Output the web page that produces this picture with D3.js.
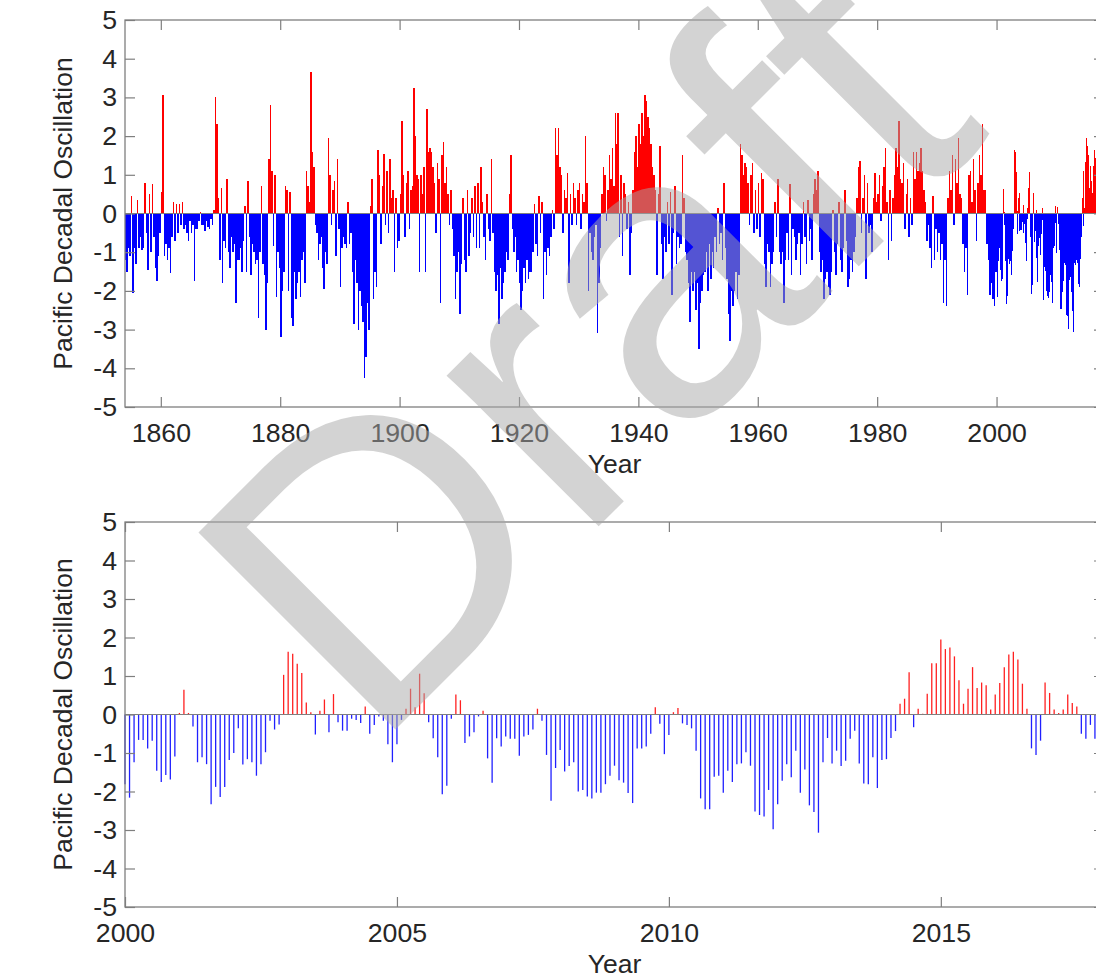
<!DOCTYPE html>
<html>
<head>
<meta charset="utf-8">
<script src="https://cdn.jsdelivr.net/npm/d3@7"></script>
<style>
  body { margin: 0; background: #fff; }
  svg { display: block; }
</style>
</head>
<body>
<div id="app"></div>
<script>
// PDO index
const longStart = 1854;
// seasonal values, 1854-1999, four per year
const pdoSeasonal = [
  -1.2, -1.5, -0.9, -1.1,   0.45, -2.05, -0.9, -1.3,   0.35, -0.9, -0.6, -0.95,   -0.9, 0.8, -0.5, -1.45,
  0.5, -1.0, 0.75, -0.6,   -1.4, -1.75, -1.1, -0.5,
  0.55, 3.05, -1.1, -0.8,   -1.2, -0.9, -1.55, -0.6,   0.3, -0.7, 0.25, -0.5,   0.25, -0.3, 0.3, -0.4,
  -0.3, -0.5, -0.7, -0.2,   -0.5, -0.3, -1.75, -0.4,   -0.4, -0.2, 0.05, -0.3,   -0.3, -0.45, -0.2, -0.35,
  -0.4, -0.15, -0.3, 0.1,   3.0, 2.3, 0.4, -1.2,
  0.65, -1.8, -0.7, -0.9,   0.9, -1.0, -1.4, -0.6,   -1.0, -0.8, -2.3, -1.2,   -1.2, -0.9, -1.5, -0.7,
  0.2, -1.5, 0.85, -0.6,   -1.6, -0.8, -1.0, -1.3,   -1.2, -2.7, -1.0, 0.7,   -1.3, -1.6, -3.0, -1.8,
  1.4, 2.8, 1.1, -0.85,   1.0, -2.15, -1.0, -1.4,
  -3.2, -2.0, -1.5, 0.7,   0.6, -2.0, 0.55, -2.7,   -2.9, -1.5, -2.2, -1.8,   -1.5, -2.15, -1.2, -1.0,
  -1.8, 1.1, 0.7, 0.3,   3.65, 1.6, 1.2, -0.3,   -0.5, -1.2, -0.8, -0.6,   -1.4, -1.95, -1.0, -1.3,
  1.95, 1.0, -0.3, 0.6,   0.85, -1.1, 1.4, -0.4,
  -1.9, -0.9, -0.6, -0.8,   -0.9, 0.3, -0.8, -0.5,   -1.5, -2.85, -1.2, -1.8,   -3.0, -2.0, -2.4, -2.8,
  -4.25, -3.7, -2.3, -3.0,   0.2, 0.9, -2.2, -1.5,   -1.9, 1.65, 1.0, -0.8,   0.7, 1.55, -0.3, 1.1,
  -0.5, 1.4, 0.4, 0.6,   -1.5, 0.4, -0.9, -0.7,
  0.5, 2.4, 1.0, -0.6,   0.8, 1.1, -0.4, 0.6,   0.7, 3.25, 2.0, 1.0,   0.9, -1.5, 1.0, 0.5,
  1.2, -1.5, 2.7, 1.6,   1.7, 1.6, 1.2, 0.8,   -0.5, 1.3, 0.9, -2.3,   1.5, 1.85, 0.8, 1.2,
  0.5, -0.3, 0.6, -0.4,   -1.1, -2.2, -1.5, -1.0,
  -2.6, -1.3, 0.4, -1.2,   -1.5, 0.6, -1.1, -0.5,   0.4, -0.6, 0.7, -0.9,   0.8, -0.9, 1.2, 0.3,
  -0.6, -1.2, 0.5, -0.4,   -0.7, 1.4, -0.5, -1.5,   -2.0, -1.6, -2.85, -1.4,   -2.2, -1.8, -1.5, -1.0,
  -1.2, 0.5, 1.5, -0.4,   -1.0, -0.6, -1.5, -1.2,
  -1.8, -2.5, -2.0, -1.4,   -1.8, -1.2, -1.7, -1.5,   -1.5, -1.0, 0.25, -0.8,   -1.1, 0.45, -0.5, 0.3,
  -2.2, -1.0, -1.6, -0.9,   -1.1, -0.6, 0.1, -0.4,   2.2, 1.5, 2.2, 1.2,   1.0, -0.5, 0.6, 0.4,
  1.05, -1.8, 0.5, -0.3,   0.8, 0.4, -0.3, 0.6,
  0.8, -0.4, 0.5, 0.3,   2.0, 0.8, -2.0, -0.5,   -1.0, -1.2, -0.6, -0.3,   -3.1, -1.8, -0.9, 0.5,
  1.2, 1.0, -0.2, 0.6,   1.5, 0.9, 1.7, 0.7,   2.6, 1.8, 2.6, -0.6,   1.0, -1.1, 0.8, 0.5,
  -0.4, 0.3, -1.6, -0.5,   0.6, 1.6, 2.0, 1.2,
  2.3, 1.8, 2.6, 2.0,   3.05, 2.9, 2.5, 2.2,   1.8, 1.2, 1.0, 0.6,   -1.6, 0.5, 1.75, -0.8,
  -1.7, -0.6, -1.0, 0.3,   -0.8, 0.55, -2.1, -0.5,   0.7, -1.3, -0.6, -0.9,   -0.8, 1.5, 0.4, -1.0,
  -1.2, -1.8, -2.8, -1.5,   -2.0, -1.5, -2.5, -1.8,
  -3.5, -2.3, -2.0, -1.6,   -1.5, -1.0, -2.0, -0.8,   -1.7, -1.0, -1.4, -0.6,   -1.0, 0.15, -0.8, -0.5,
  -1.2, 0.8, -0.9, -1.7,   -2.6, -3.3, -2.0, -2.4,   -2.0, -1.5, -2.2, -1.6,   1.8, 1.5, 1.0, 1.3,
  1.2, 0.8, -0.3, 1.0,   1.3, -0.5, 0.6, -0.4,
  0.8, -0.6, 1.05, 0.9,   -1.3, -1.9, -0.8, -1.0,   -1.9, -1.3, -1.0, 0.3,   -0.6, 0.9, -1.0, -1.3,
  -1.0, -2.3, -1.2, -0.5,   -1.2, 0.75, -1.6, -0.4,   -0.6, -1.2, -0.8, -0.5,   -1.6, -0.8, 0.3, -0.6,
  -1.3, 0.35, -0.7, -0.4,   -1.2, 0.5, 0.9, 0.6,
  1.1, -1.0, -1.5, -1.2,   -2.2, -1.7, -1.5, -1.9,   -2.1, -1.5, 0.1, -1.0,   -1.6, -0.8, 0.3, -1.2,
  -1.5, -0.9, 0.6, -0.7,   -1.9, -1.7, -1.2, -1.5,   -1.0, -0.6, 0.4, 1.2,   1.35, -0.5, 0.4, 1.0,
  -1.7, 0.8, -0.5, -0.3,   -1.0, 0.4, 1.05, 0.3,
  0.5, 1.0, -0.2, 0.7,   1.2, 1.7, 0.3, -1.2,   0.6, -0.7, 0.4, 1.0,   1.7, 1.2, 2.4, 0.9,
  0.8, 1.3, -0.4, 0.5,   0.9, -0.6, 0.4, -0.3,   1.6, 0.9, 1.6, 1.1,   1.3, 1.7, 1.1, 0.6,
  0.3, -0.7, -0.3, -0.9,   -1.4, 0.45, -1.2, -0.4,
  -1.0, -0.5, -1.2, -0.8,   -2.3, -1.2, -2.4, 0.4,   1.1, 0.6, 1.5, -0.3,   1.4, 0.8, 1.95, 0.5,
  0.4, -0.8, -1.5, -0.9,   -2.1, 1.0, 1.1, 0.3,   1.4, 0.6, -0.7, 0.8,   1.5, 1.0, 2.3, 0.6,
  0.6, -0.8, -1.2, -2.1,   -1.8, -2.2, -2.4, -1.5
];
const recentStart = 2000;
// monthly values from Jan 2000
const pdoMonthly = [
  -1.81, -2.16, -1.24, -0.66, -0.66, -0.88, -0.68, -1.46, -1.75, -1.57, -1.69, -1.09,
  0.04, 0.64, 0.04, -0.31, -1.24, -1.11, -1.29, -2.33, -1.88, -2.14, -1.88, -1.18,
  -1.00, -0.36, -1.30, -1.16, -1.24, -1.59, -1.29, -0.98, -0.16, -0.39, -0.26, 1.03,
  1.63, 1.58, 1.32, 1.08, 0.31, 0.06, -0.52, 0.10, 0.39, -0.46, 0.53, -0.20,
  -0.42, -0.42, -0.11, -0.14, -0.22, 0.21, -0.50, -0.27, -0.05, -0.16, -0.77, -1.24,
  -0.77, -0.14, 0.15, 0.67, 0.19, 1.06, 0.55, -0.20, -0.62, -1.11, -2.07, -1.85,
  -0.11, 0.52, 0.37, -0.74, -0.57, -0.46, -0.05, 0.10, -1.14, -1.77, -0.62, -0.83,
  -0.57, -0.63, -0.63, -1.07, -0.57, -0.53, -0.39, 0.15, -0.16, -1.05, -2.24, -1.39,
  -0.92, -1.48, -1.34, -1.24, -2.00, -1.96, -2.13, -2.18, -2.03, -2.03, -1.81, -1.59,
  -1.33, -1.71, -1.77, -2.04, -2.30, -0.88, -0.88, -0.83, -0.50, 0.19, -0.24, -1.03,
  -0.53, 0.06, 0.17, -0.23, -0.27, -0.36, -0.94, -2.18, -2.46, -2.46, -1.62, -1.59,
  -2.03, -1.46, -1.75, -1.29, -1.27, -0.98, -1.33, -2.52, -2.61, -2.65, -1.96, -2.98,
  -2.33, -1.72, -1.29, -1.63, -0.94, -2.03, -1.43, -2.36, -2.53, -3.07, -1.24, -0.61,
  -1.27, -0.94, -1.34, -1.20, -0.63, -0.42, -1.27, -1.79, -1.81, -1.11, -1.91, -1.18,
  -1.16, -0.61, -0.43, 0.28, 0.41, 1.10, -0.33, 0.15, 0.02, 0.54, 1.33, 1.33,
  1.95, 1.70, 1.74, 1.51, 0.89, 0.28, 0.67, 1.23, 0.69, 0.83, 0.76, 0.13,
  0.52, 0.82, 1.23, 1.56, 1.63, 1.43, 0.80, 0.15, -0.88, -1.05, -0.68, 0.83,
  0.56, 0.13, 0.04, 0.13, 0.52, 0.30, 0.21, -0.50, -0.63, -0.27, -0.63
];
const yTicks = [-5, -4, -3, -2, -1, 0, 1, 2, 3, 4, 5];
const longYearTicks = [1860, 1880, 1900, 1920, 1940, 1960, 1980, 2000];
const recentYearTicks = [2000, 2005, 2010, 2015];
const xTitle = 'Year';
const yTitle = 'Pacific Decadal Oscillation';
const stamp = 'Draft';

(function (d3) {

  'use strict'
  const font = '"Liberation Sans", Arial, Helvetica, sans-serif'
  const axisColor = '#7f7f7f'
  const textColor = '#262626'
  const W = 1096
  const H = 978

  const svg = d3.select('#app')
  .append('svg')
  .attr('width', W)
  .attr('height', H)

  // seasonal series for the long panel, then the monthly one after 2000
  const longData = pdoSeasonal.map((v, i) => ({t: longStart + i / 4, dt: 0.25, v: v}))
  .concat(pdoMonthly.map((v, i) => ({t: recentStart + i / 12, dt: 1 / 12, v: v})))
  const recentData = pdoMonthly.map((v, i) => ({t: recentStart + i / 12, v: v}))

  const drawFrame = function (g, x, y, box, xTicks) {
    const styleAxis = function (sel) {
      sel.select('.domain').remove()
      sel.selectAll('.tick line').attr('stroke', axisColor).attr('stroke-width', 1.2)
      sel.selectAll('.tick text')
      .attr('fill', textColor)
      .style('font-family', font)
      .style('font-size', '26.7px')
    }
    g.append('g')
    .attr('transform', 'translate(0,' + box.bottom + ')')
    .call(d3.axisBottom(x).tickValues(xTicks).tickFormat(d3.format('d')).tickSize(-10).tickPadding(16))
    .call(styleAxis)
    g.append('g')
    .attr('transform', 'translate(0,' + box.top + ')')
    .call(d3.axisTop(x).tickValues(xTicks).tickFormat('').tickSize(-10))
    .call(styleAxis)
    g.append('g')
    .attr('transform', 'translate(' + box.left + ',0)')
    .call(d3.axisLeft(y).tickValues(yTicks).tickFormat((d) => String(d)).tickSize(-10).tickPadding(8))
    .call(styleAxis)
    g.append('g')
    .attr('transform', 'translate(' + box.right + ',0)')
    .call(d3.axisRight(y).tickValues(yTicks).tickFormat('').tickSize(-10))
    .call(styleAxis)

    g.append('rect')
    .attr('x', box.left)
    .attr('y', box.top)
    .attr('width', box.right - box.left)
    .attr('height', box.bottom - box.top)
    .attr('fill', 'none')
    .attr('stroke', axisColor)
    .attr('stroke-width', 1.3)

    g.append('line')
    .attr('x1', box.left).attr('x2', box.right)
    .attr('y1', y(0)).attr('y2', y(0))
    .attr('stroke', axisColor)
    .attr('stroke-width', 1.2)

    g.append('text')
    .attr('transform', 'translate(72,' + (box.top + box.bottom) / 2 + ') rotate(-90)')
    .attr('text-anchor', 'middle')
    .attr('fill', textColor)
    .style('font-family', font)
    .style('font-size', '26.5px')
    .text(yTitle)

    g.append('text')
    .attr('x', (box.left + box.right) / 2)
    .attr('y', box.titleY)
    .attr('text-anchor', 'middle')
    .attr('fill', textColor)
    .style('font-family', font)
    .style('font-size', '26.5px')
    .text(xTitle)
  }

  // top panel: whole record
  const topBox = {left: 125, right: 1104, top: 20, bottom: 407, titleY: 473}
  const xTop = d3.scaleLinear().domain([1854, 2018]).range([topBox.left, topBox.right])
  const yTop = d3.scaleLinear().domain([-5, 5]).range([topBox.bottom, topBox.top])
  const gTop = svg.append('g')

  gTop.append('g')
  .selectAll('rect')
  .data(longData)
  .enter().append('rect')
  .attr('x', (d) => xTop(d.t))
  .attr('width', (d) => Math.max(1, xTop(d.t + d.dt) - xTop(d.t)))
  .attr('y', (d) => yTop(Math.max(0, d.v)))
  .attr('height', (d) => Math.abs(yTop(d.v) - yTop(0)))
  .attr('fill', (d) => d.v >= 0 ? '#ff0000' : '#0000ff')
  .attr('shape-rendering', 'crispEdges')

  drawFrame(gTop, xTop, yTop, topBox, longYearTicks)

  // bottom panel: since 2000
  const botBox = {left: 125, right: 1104, top: 522, bottom: 907, titleY: 973}
  const xBot = d3.scaleLinear().domain([2000, 2018]).range([botBox.left, botBox.right])
  const yBot = d3.scaleLinear().domain([-5, 5]).range([botBox.bottom, botBox.top])
  const gBot = svg.append('g')

  gBot.append('g')
  .selectAll('line')
  .data(recentData)
  .enter().append('line')
  .attr('x1', (d) => xBot(d.t))
  .attr('x2', (d) => xBot(d.t))
  .attr('y1', yBot(0))
  .attr('y2', (d) => yBot(d.v))
  .attr('stroke', (d) => d.v >= 0 ? '#ff2020' : '#2020ff')
  .attr('stroke-width', 1.3)

  drawFrame(gBot, xBot, yBot, botBox, recentYearTicks)

  // watermark over everything
  svg.append('text')
  .attr('transform', 'translate(372,753) rotate(-45)')
  .attr('fill', '#a8a8a8')
  .attr('opacity', 0.5)
  .style('font-family', font)
  .style('font-size', '405px')
  .text(stamp)

}(d3))
</script>
</body>
</html>
